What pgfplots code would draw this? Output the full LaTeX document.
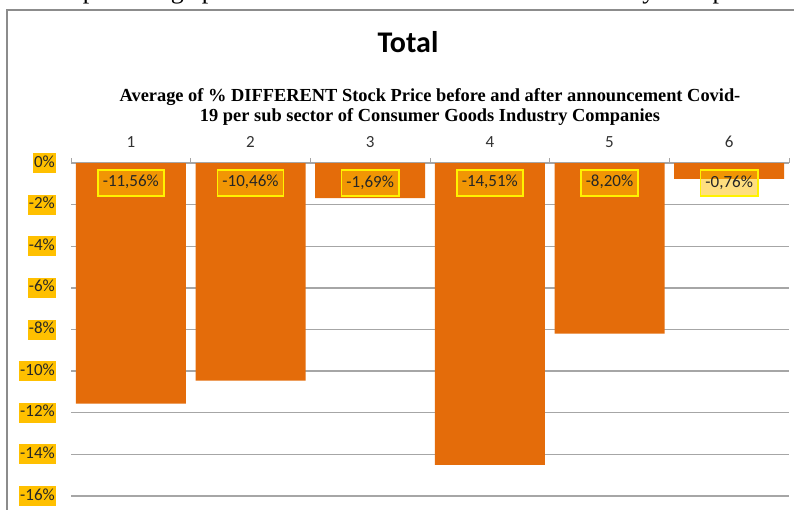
\documentclass[border=0pt]{standalone}
\usepackage{pgfplots}
\pgfplotsset{compat=1.18}
\usepackage{fontspec}
\setmainfont{Carlito}
\newfontfamily\seriffont{Liberation Serif}
\definecolor{barorange}{HTML}{E46C0A}
\definecolor{labfill}{HTML}{FFC000}
\definecolor{gridgray}{HTML}{A6A6A6}
\definecolor{framegray}{HTML}{8C8C8C}
\begin{document}
\begin{tikzpicture}[x=1pt,y=1pt]
\useasboundingbox (0,0) rectangle (794,509);
\clip (0,0) rectangle (794,509);
\fill[white] (0,0) rectangle (794,509);
\node[anchor=base west, font=\seriffont\fontsize{26}{30}\selectfont, inner sep=0] at (-30,510.5) {shown the percentage per sub sector of Consumer Goods Industry Companies};
\draw[framegray, line width=2pt] (7,-20) rectangle (830,499);
\node[font=\bfseries\fontsize{30}{36}\selectfont] at (408,467) {Total};
\node[font=\seriffont\bfseries\fontsize{18.4}{20}\selectfont, align=center] at (430,402) {Average of \% DIFFERENT Stock Price before and after announcement Covid-\\19 per sub sector of Consumer Goods Industry Companies};
\begin{axis}[
  at={(71pt,13pt)}, anchor=south west,
  scale only axis, width=718pt, height=333pt,
  xmin=0.5, xmax=6.5, ymin=-16, ymax=0,
  axis x line*=top, axis y line*=left,
  y axis line style={draw=none},
  x axis line style={gridgray, line width=1.3pt},
  xtick={0.5,1.5,2.5,3.5,4.5,5.5,6.5},
  xticklabels={1,2,3,4,5,6},
  x tick label as interval,
  xtick align=outside,
  major tick length=5pt,
  x tick style={gridgray, line width=1pt},
  xticklabel style={font=\fontsize{17}{20}\selectfont, text=black!80, yshift=7pt},
  ytick={-16,-14,...,0},
  ytick style={draw=none},
  yticklabel={\pgfmathprintnumber[assume math mode=true]{\tick}\%},
  yticklabel style={anchor=east, fill=labfill, inner xsep=1pt, inner ysep=2pt, text height=12pt, text depth=4pt, font=\fontsize{17}{20}\selectfont, text=black!85, xshift=-15pt},
  ymajorgrids,
  major grid style={gridgray, line width=1.3pt},
]
\addplot[ybar, bar width=110pt, fill=barorange, draw=none,
  visualization depends on={rawy \as \rawy},
  nodes near coords={\pgfmathprintnumber[fixed,fixed zerofill,precision=2,use comma,assume math mode=true]{\pgfplotspointmeta}\%},
  nodes near coords style={anchor=center, yshift={-20pt-20.8125pt*(\rawy)}, draw=yellow, line width=1.5pt, fill=labfill, fill opacity=0.5, draw opacity=1, text opacity=1, inner xsep=5pt, inner ysep=5pt, text height=12pt, text depth=4pt, font=\fontsize{17}{20}\selectfont, text=black!85},
] coordinates {(1,-11.56) (2,-10.46) (3,-1.69) (4,-14.51) (5,-8.20) (6,-0.76)};
\end{axis}
\end{tikzpicture}
\end{document}
